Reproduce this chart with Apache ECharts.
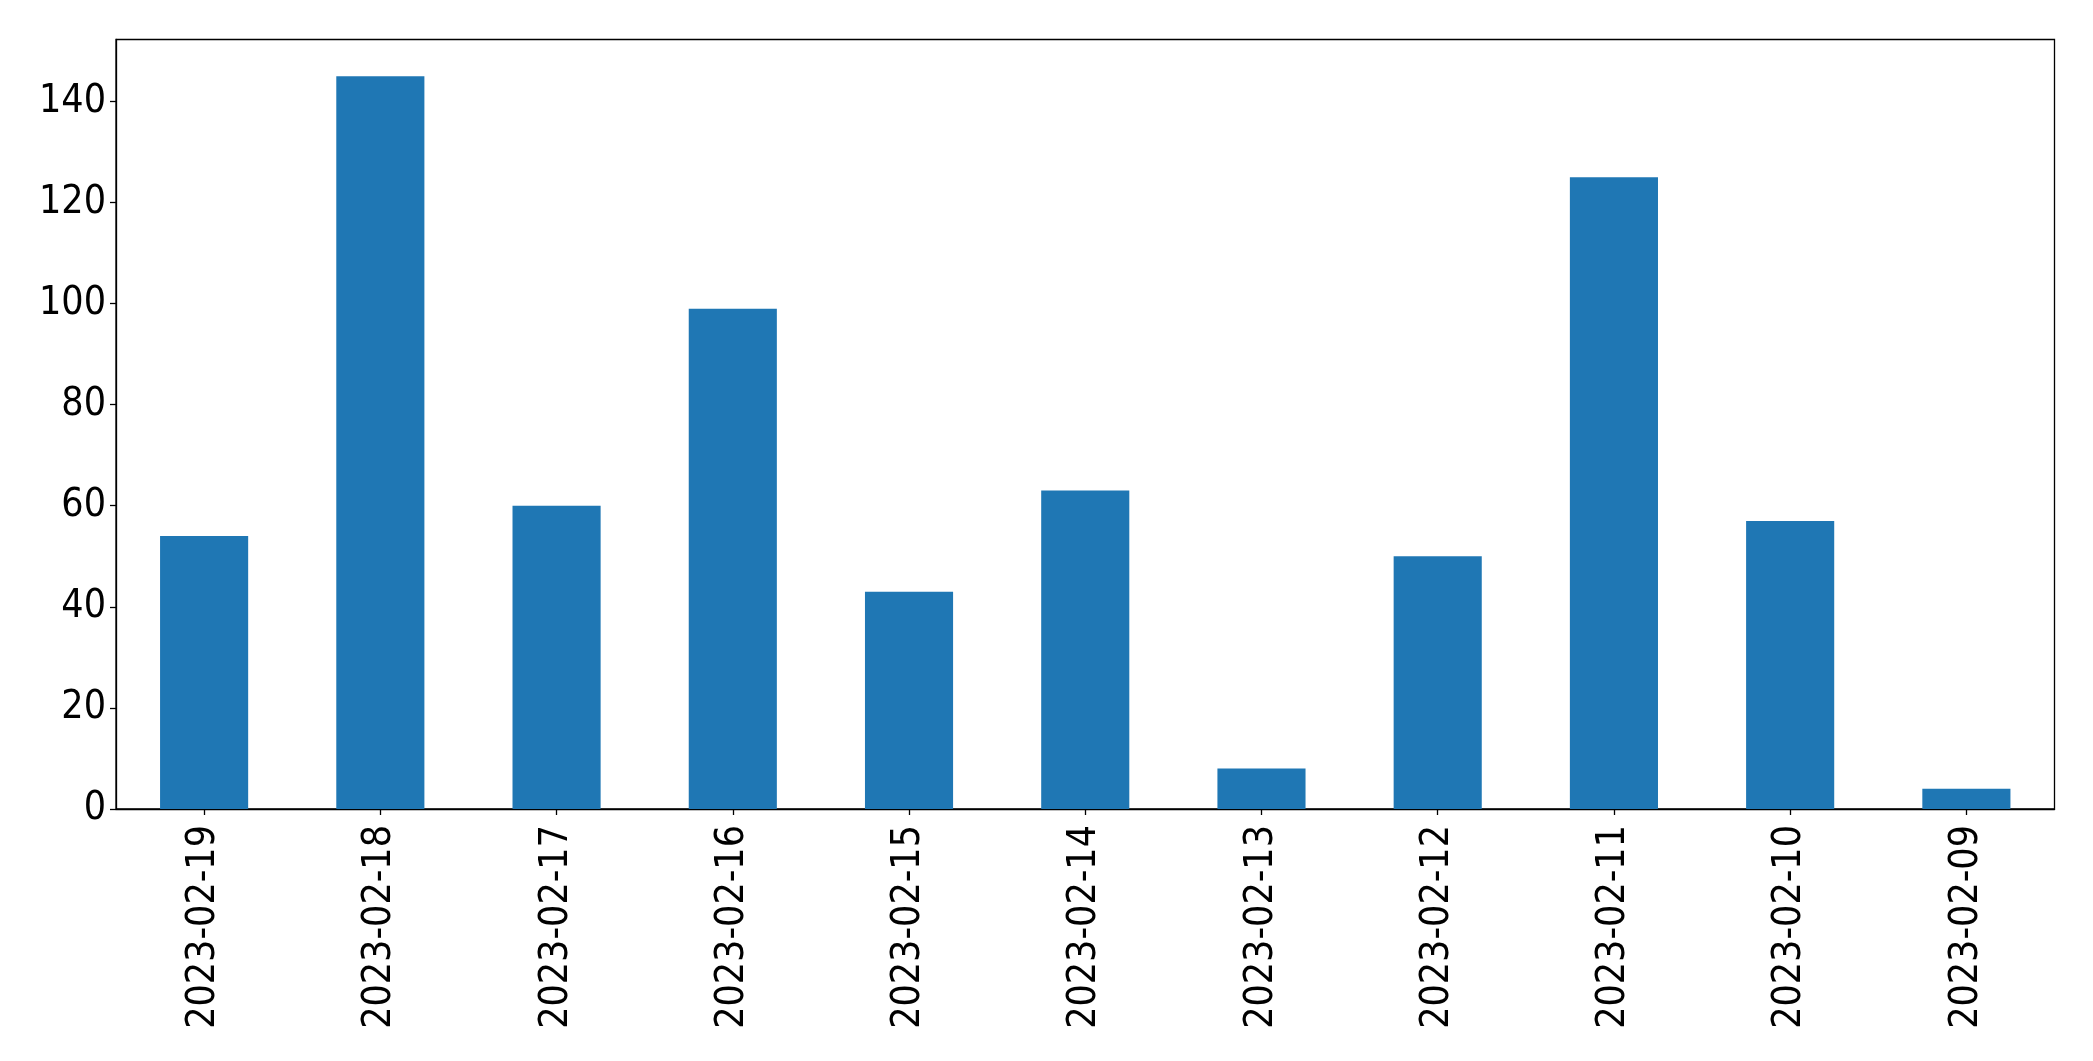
<!DOCTYPE html>
<html>
<head>
<meta charset="utf-8">
<script src="https://cdn.jsdelivr.net/npm/echarts@6/dist/echarts.min.js"></script>
<style>
html,body{margin:0;padding:0;background:#fff;}
#chart{width:2093px;height:1061px;}
</style>
</head>
<body>
<div id="chart"></div>
<script>
const categories = ["2023-02-19","2023-02-18","2023-02-17","2023-02-16","2023-02-15","2023-02-14","2023-02-13","2023-02-12","2023-02-11","2023-02-10","2023-02-09"];
const values = [54, 145, 60, 99, 43, 63, 8, 50, 125, 57, 4];
const yTicks = [0, 20, 40, 60, 80, 100, 120, 140];

const FONT = '"DejaVu Sans Condensed", "DejaVu Sans"';
const chart = echarts.init(document.getElementById('chart'), null, {renderer: 'canvas'});
chart.setOption({
  animation: false,
  backgroundColor: '#fff',
  grid: {
    left: 116, top: 39.5, right: 38.5, bottom: 252,
    show: true, borderColor: '#000', borderWidth: 1.3, backgroundColor: 'transparent'
  },
  xAxis: {
    type: 'category',
    data: categories,
    boundaryGap: true,
    axisLine: {show: true, lineStyle: {color: '#000', width: 1.3}},
    axisTick: {show: true, alignWithLabel: true, length: 6, lineStyle: {color: '#000', width: 1.3}},
    axisLabel: {rotate: 90, margin: 16, fontFamily: FONT, fontSize: 39, color: '#000', interval: 0}
  },
  yAxis: {
    type: 'value',
    min: 0,
    max: 152.25,
    interval: 20,
    axisLine: {show: true, lineStyle: {color: '#000', width: 1.3}},
    axisTick: {show: true, length: 6, lineStyle: {color: '#000', width: 1.3}},
    splitLine: {show: false},
    axisLabel: {
      margin: 10, fontFamily: FONT, fontSize: 39, color: '#000',
      formatter: function (v) { return yTicks.indexOf(v) >= 0 ? String(v) : ''; },
      showMaxLabel: false
    }
  },
  series: [{
    type: 'bar',
    data: values,
    barWidth: '50%',
    itemStyle: {color: '#1f77b4'}
  }]
});
</script>
</body>
</html>
